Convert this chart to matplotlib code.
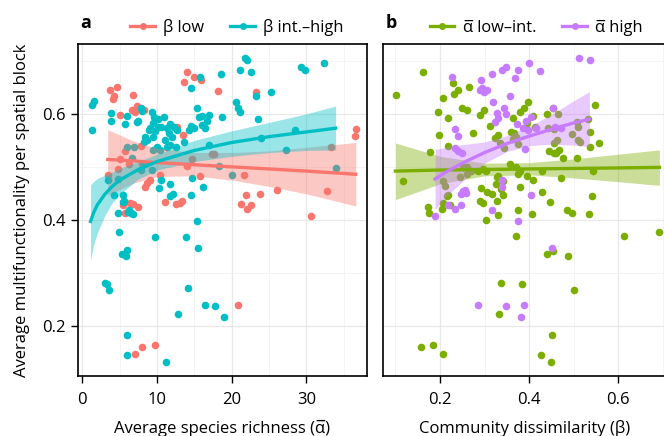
import matplotlib
matplotlib.use("Agg")
import matplotlib.pyplot as plt
from matplotlib.lines import Line2D
from matplotlib.ticker import MultipleLocator

plt.rcParams["font.family"] = ["Open Sans", "DejaVu Sans"]

RED, CYAN, GREEN, PURPLE = "#F8766D", "#00BFC4", "#7CAE00", "#C77CFF"

# ---- panel a: multifunctionality vs average species richness ----
a_low_x = [14.0, 13.6, 15.0, 15.9, 3.7, 4.2, 4.1, 4.7, 6.8, 18.2, 23.3, 7.0, 7.3, 8.3, 6.7,
           5.1, 12.7, 13.5, 5.7, 7.8, 36.6, 36.5, 33.3, 5.1, 6.3, 8.0, 14.7, 14.0, 17.6, 21.6,
           9.1, 8.6, 8.4, 21.9, 23.8, 26.1, 32.7, 21.2, 22.1, 22.6, 12.6, 13.1, 13.3, 11.0,
           6.8, 6.4, 5.5, 5.7, 7.5, 30.6, 20.9, 8.0, 9.7, 7.1, 4.8, 3.5, 10.4, 15.7, 17.4]
a_low_y = [0.680, 0.661, 0.670, 0.664, 0.645, 0.633, 0.628, 0.650, 0.636, 0.643, 0.641, 0.604,
           0.614, 0.608, 0.608, 0.598, 0.575, 0.560, 0.529, 0.540, 0.571, 0.558, 0.537, 0.514,
           0.506, 0.506, 0.514, 0.502, 0.525, 0.485, 0.475, 0.469, 0.462, 0.447, 0.448, 0.457,
           0.455, 0.429, 0.420, 0.428, 0.429, 0.431, 0.436, 0.434, 0.429, 0.431, 0.428, 0.413,
           0.424, 0.407, 0.240, 0.160, 0.163, 0.146, 0.496, 0.485, 0.484, 0.483, 0.525]

a_high_x = [21.8, 22.1, 32.4, 29.3, 29.8, 21.1, 22.6, 18.6, 15.7, 14.5, 25.3, 23.2, 20.6, 20.9,
            21.1, 15.3, 1.25, 1.57, 1.34, 7.9, 8.0, 3.9, 3.85, 5.7, 6.0, 7.5, 7.3,
            9.31, 9.53, 10.07, 10.96, 9.44, 9.08, 8.90, 9.75, 10.07, 10.51, 11.32, 11.77, 12.21,
            11.54, 11.99, 12.66, 11.10, 11.77, 12.57, 11.32, 10.43, 9.98, 9.44, 8.41, 8.64, 8.28,
            9.44, 13.56, 14.23, 14.54, 14.90, 15.57, 16.02, 16.38, 16.69, 16.02, 17.0,
            18.7, 23.5, 23.9, 28.5, 27.3, 33.9, 17.0, 20.0, 18.3, 14.7, 16.2, 14.6,
            11.8, 12.2, 11.8, 10.3, 10.5, 9.3, 7.8, 6.6, 5.5, 5.6, 5.4, 6.3, 6.5, 6.8, 6.1, 4.8,
            15.3, 4.9, 9.75, 13.9, 15.5, 6.0, 5.3, 5.8, 3.0, 3.3, 3.6, 14.1, 16.4, 17.8, 18.9,
            12.8, 5.95, 6.0, 11.2, 5.95, 6.85, 3.5, 4.8, 4.2, 8.2]
a_high_y = [0.705, 0.702, 0.697, 0.688, 0.683, 0.683, 0.680, 0.675, 0.669, 0.648, 0.641, 0.633,
            0.622, 0.611, 0.603, 0.611, 0.617, 0.625, 0.569, 0.612, 0.606, 0.601, 0.587, 0.581,
            0.596, 0.587, 0.584,
            0.603, 0.595, 0.591, 0.594, 0.582, 0.573, 0.570, 0.567, 0.575, 0.575, 0.573, 0.581,
            0.576, 0.564, 0.557, 0.570, 0.551, 0.542, 0.538, 0.538, 0.532, 0.538, 0.532, 0.557,
            0.551, 0.546, 0.557, 0.546, 0.570, 0.578, 0.573, 0.594, 0.596, 0.573, 0.586, 0.579,
            0.598, 0.594, 0.591, 0.554, 0.570, 0.532, 0.497, 0.542, 0.485, 0.502, 0.479, 0.461,
            0.446, 0.467, 0.449, 0.444, 0.460, 0.475, 0.494, 0.494, 0.516, 0.447, 0.435, 0.433,
            0.419, 0.413, 0.411, 0.414, 0.413, 0.397, 0.377, 0.367, 0.367, 0.346, 0.343, 0.335,
            0.331, 0.280, 0.279, 0.268, 0.271, 0.239, 0.237, 0.216, 0.222, 0.182, 0.144, 0.131,
            0.538, 0.538, 0.475, 0.477, 0.447, 0.505]

# fitted curves and confidence bands
a_low_fit_x = [3.4, 7, 10, 15, 20, 25, 30, 36.6]
a_low_fit = [0.514, 0.511, 0.508, 0.504, 0.500, 0.496, 0.492, 0.486]
a_low_hi = [0.570, 0.548, 0.535, 0.527, 0.527, 0.530, 0.537, 0.546]
a_low_lo = [0.447, 0.470, 0.482, 0.483, 0.475, 0.463, 0.449, 0.426]

a_high_fit_x = [1.1, 1.5, 2, 3, 4, 5, 7.5, 10, 15, 20, 25, 30, 33.9]
a_high_fit = [0.397, 0.413, 0.428, 0.448, 0.463, 0.475, 0.495, 0.510, 0.531, 0.546, 0.557, 0.566, 0.573]
a_high_hi = [0.466, 0.472, 0.478, 0.484, 0.490, 0.497, 0.510, 0.524, 0.550, 0.568, 0.584, 0.600, 0.615]
a_high_lo = [0.324, 0.352, 0.375, 0.408, 0.432, 0.448, 0.477, 0.494, 0.510, 0.520, 0.527, 0.531, 0.532]

# ---- panel b: multifunctionality vs community dissimilarity ----
b_low_x = [0.101, 0.163, 0.116, 0.178, 0.198, 0.196, 0.206, 0.219, 0.230, 0.231, 0.240, 0.266,
           0.249, 0.260, 0.219, 0.275, 0.290, 0.299, 0.313, 0.323, 0.331, 0.334, 0.343,
           0.360, 0.367, 0.371, 0.364, 0.375, 0.379, 0.388, 0.398, 0.409, 0.363, 0.394, 0.413,
           0.439, 0.465, 0.454, 0.443, 0.455, 0.463, 0.455, 0.466, 0.461, 0.495, 0.510, 0.513,
           0.510, 0.508, 0.532, 0.547, 0.537, 0.557, 0.537, 0.445, 0.455, 0.476, 0.508, 0.542,
           0.429, 0.394, 0.409, 0.379, 0.472, 0.429, 0.446, 0.540, 0.484, 0.497, 0.534, 0.407,
           0.375, 0.331, 0.303, 0.328, 0.342, 0.316, 0.305, 0.293, 0.297, 0.290,
           0.260, 0.245, 0.251, 0.261, 0.269, 0.286, 0.297, 0.303,
           0.207, 0.211, 0.215, 0.219, 0.207, 0.204, 0.222, 0.172, 0.176,
           0.331, 0.327, 0.342, 0.326, 0.336, 0.370, 0.613, 0.692, 0.370, 0.379, 0.357, 0.375,
           0.440, 0.453, 0.487, 0.336, 0.383, 0.500, 0.332, 0.451, 0.157, 0.185, 0.207, 0.427, 0.448]
b_low_y = [0.635, 0.680, 0.474, 0.528, 0.560, 0.604, 0.630, 0.593, 0.659, 0.637, 0.645, 0.650,
           0.611, 0.608, 0.540, 0.564, 0.598, 0.608, 0.577, 0.554, 0.560, 0.545, 0.535,
           0.566, 0.563, 0.557, 0.552, 0.544, 0.604, 0.611, 0.623, 0.596, 0.592, 0.582, 0.576,
           0.600, 0.599, 0.611, 0.573, 0.571, 0.550, 0.545, 0.532, 0.526, 0.562, 0.550, 0.547,
           0.576, 0.585, 0.591, 0.617, 0.565, 0.545, 0.538, 0.529, 0.526, 0.516, 0.516, 0.492,
           0.492, 0.482, 0.475, 0.461, 0.479, 0.453, 0.433, 0.444, 0.418, 0.413, 0.411, 0.411,
           0.418, 0.409, 0.400, 0.435, 0.447, 0.449, 0.453, 0.460, 0.432, 0.435,
           0.486, 0.481, 0.499, 0.499, 0.492, 0.492, 0.495, 0.492,
           0.473, 0.463, 0.444, 0.447, 0.431, 0.421, 0.427, 0.424, 0.413,
           0.483, 0.480, 0.474, 0.468, 0.459, 0.369, 0.369, 0.377, 0.499, 0.493, 0.505, 0.486,
           0.335, 0.342, 0.331, 0.280, 0.279, 0.268, 0.222, 0.182, 0.160, 0.163, 0.146, 0.144, 0.132]

b_high_x = [0.512, 0.536, 0.399, 0.425, 0.375, 0.348, 0.340, 0.369, 0.317, 0.291, 0.226, 0.290,
            0.298, 0.306, 0.295, 0.357, 0.319, 0.343, 0.349, 0.327, 0.323, 0.331, 0.372, 0.393,
            0.405, 0.454, 0.387, 0.398, 0.415, 0.457, 0.472, 0.234, 0.240, 0.234, 0.240, 0.249,
            0.390, 0.252, 0.258, 0.248, 0.256, 0.248, 0.340, 0.404, 0.234, 0.219, 0.189, 0.317,
            0.375, 0.338, 0.451, 0.286, 0.349, 0.388, 0.381]
b_high_y = [0.705, 0.702, 0.697, 0.681, 0.683, 0.688, 0.683, 0.667, 0.675, 0.664, 0.670, 0.645,
            0.642, 0.645, 0.648, 0.634, 0.622, 0.611, 0.600, 0.602, 0.585, 0.593, 0.580, 0.586,
            0.594, 0.611, 0.573, 0.569, 0.573, 0.576, 0.573, 0.571, 0.558, 0.535, 0.530, 0.526,
            0.533, 0.454, 0.450, 0.448, 0.457, 0.428, 0.462, 0.446, 0.421, 0.427, 0.408, 0.419,
            0.397, 0.475, 0.346, 0.240, 0.237, 0.240, 0.216]

b_low_fit_x = [0.10, 0.20, 0.30, 0.40, 0.50, 0.60, 0.692]
b_low_fit = [0.492, 0.494, 0.495, 0.496, 0.497, 0.498, 0.499]
b_low_hi = [0.545, 0.520, 0.507, 0.508, 0.515, 0.524, 0.532]
b_low_lo = [0.438, 0.468, 0.483, 0.485, 0.479, 0.472, 0.465]

b_high_fit_x = [0.189, 0.215, 0.25, 0.30, 0.35, 0.40, 0.45, 0.50, 0.535]
b_high_fit = [0.477, 0.491, 0.507, 0.527, 0.544, 0.558, 0.571, 0.583, 0.590]
b_high_hi = [0.533, 0.537, 0.542, 0.547, 0.559, 0.576, 0.599, 0.625, 0.642]
b_high_lo = [0.419, 0.445, 0.472, 0.507, 0.529, 0.540, 0.543, 0.541, 0.538]

W, H = 664, 436
PT = 30      # marker area
FS = 12


def style(ax):
    ax.set_ylim(0.105, 0.732)
    ax.yaxis.set_major_locator(MultipleLocator(0.2))
    ax.yaxis.set_minor_locator(MultipleLocator(0.1))
    ax.grid(which="major", color="#e8e8e8", lw=0.9, zorder=0)
    ax.grid(which="minor", color="#f3f3f3", lw=0.6, zorder=0)
    ax.set_axisbelow(True)
    for s in ax.spines.values():
        s.set_color("black")
        s.set_linewidth(1.2)
    ax.tick_params(which="major", length=4.7, width=1, color="black", labelsize=FS,
                   pad=4, direction="out")
    ax.tick_params(axis="x", which="major", pad=6.5)
    ax.tick_params(which="minor", length=0)


fig = plt.figure(figsize=(W / 100, H / 100), dpi=100)
ax1 = fig.add_axes([78 / W, 60 / H, 289 / W, 332 / H])
ax2 = fig.add_axes([383 / W, 60 / H, 284 / W, 332 / H])

# panel a
ax1.scatter(a_low_x, a_low_y, s=PT, color=RED, lw=0, zorder=2)
ax1.scatter(a_high_x, a_high_y, s=PT, color=CYAN, lw=0, zorder=2)
ax1.fill_between(a_low_fit_x, a_low_lo, a_low_hi, color=RED, alpha=0.4, lw=0, zorder=3)
ax1.fill_between(a_high_fit_x, a_high_lo, a_high_hi, color=CYAN, alpha=0.4, lw=0, zorder=3)
ax1.plot(a_low_fit_x, a_low_fit, color=RED, lw=2.4, zorder=4)
ax1.plot(a_high_fit_x, a_high_fit, color=CYAN, lw=2.4, zorder=4)
ax1.set_xlim(-0.58, 38.1)
ax1.xaxis.set_major_locator(MultipleLocator(10))
ax1.xaxis.set_minor_locator(MultipleLocator(5))
style(ax1)
ax1.set_yticks([0.2, 0.4, 0.6])
ax1.set_yticklabels(["0.2", "0.4", "0.6"])
ax1.set_xlabel("Average species richness (\u03b1\u0305)", fontsize=FS, labelpad=9)
ax1.set_ylabel("Average multifunctionality per spatial block", fontsize=FS, labelpad=9)

# panel b
ax2.scatter(b_low_x, b_low_y, s=PT, color=GREEN, lw=0, zorder=2)
ax2.scatter(b_high_x, b_high_y, s=PT, color=PURPLE, lw=0, zorder=2)
ax2.fill_between(b_low_fit_x, b_low_lo, b_low_hi, color=GREEN, alpha=0.4, lw=0, zorder=3)
ax2.fill_between(b_high_fit_x, b_high_lo, b_high_hi, color=PURPLE, alpha=0.4, lw=0, zorder=3)
ax2.plot(b_low_fit_x, b_low_fit, color=GREEN, lw=2.4, zorder=4)
ax2.plot(b_high_fit_x, b_high_fit, color=PURPLE, lw=2.4, zorder=4)
ax2.set_xlim(0.0722, 0.709)
ax2.xaxis.set_major_locator(MultipleLocator(0.2))
ax2.xaxis.set_minor_locator(MultipleLocator(0.1))
style(ax2)
ax2.set_xticks([0.2, 0.4, 0.6])
ax2.set_xticklabels(["0.2", "0.4", "0.6"])
ax2.tick_params(axis="y", which="both", length=0, labelleft=False)
ax2.set_xlabel("Community dissimilarity (\u03b2)", fontsize=FS, labelpad=9)

# legends above each panel
for ax, labels, colors, cx in [
        (ax1, ["\u03b2 low", "\u03b2 int.\u2013high"], [RED, CYAN], 0.55),
        (ax2, ["\u03b1\u0305 low\u2013int.", "\u03b1\u0305 high"], [GREEN, PURPLE], 0.54)]:
    handles = [Line2D([], [], color=c, lw=2.4, marker="o", ms=5, mew=0) for c in colors]
    ax.legend(handles, labels, loc="lower center", bbox_to_anchor=(cx, 1.0), ncol=2,
              frameon=False, fontsize=11.8, handlelength=1.5, handletextpad=0.5,
              columnspacing=1.6, borderaxespad=0.1)

fig.text(80 / W, 1 - 23 / H, "a", fontsize=13, fontweight="bold", va="center", ha="left")
fig.text(386 / W, 1 - 23 / H, "b", fontsize=13, fontweight="bold", va="center", ha="left")

fig.savefig("out.png", dpi=100)
